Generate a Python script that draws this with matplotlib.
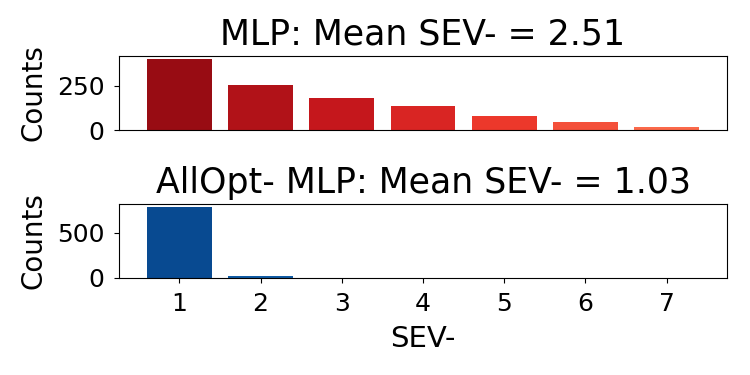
import numpy as np
import matplotlib
matplotlib.use('Agg')
import matplotlib.pyplot as plt

# SEV- values and counts
sev_levels = [1, 2, 3, 4, 5, 6, 7]
mlp_counts = [400, 258, 183, 135, 79, 44, 19]
allopt_counts = [785, 19, 0, 0, 0, 0, 0]
mlp_mean = 2.51
allopt_mean = 1.03

reds = plt.cm.Reds(np.linspace(0.9, 0.5, len(sev_levels)))
blues = plt.cm.Blues(np.linspace(0.9, 0.5, len(sev_levels)))

fig = plt.figure(figsize=(7.5, 3.75), dpi=100)
ax1 = fig.add_axes([0.159, 0.653, 0.81, 0.198])
ax2 = fig.add_axes([0.159, 0.259, 0.81, 0.198])

# Top panel: plain MLP
ax1.bar(sev_levels, mlp_counts, color=reds, width=0.8)
ax1.set_title(f'MLP: Mean SEV- = {mlp_mean:.2f}', fontsize=25, pad=8)
ax1.set_ylabel('Counts', fontsize=20, labelpad=7)
ax1.set_xticks([])
ax1.set_yticks([0, 250])
ax1.tick_params(labelsize=18, pad=7)

# Bottom panel: AllOpt- MLP
ax2.bar(sev_levels, allopt_counts, color=blues, width=0.8)
ax2.set_title(f'AllOpt- MLP: Mean SEV- = {allopt_mean:.2f}', fontsize=25, pad=8)
ax2.set_ylabel('Counts', fontsize=20, labelpad=7)
ax2.set_xlabel('SEV-', fontsize=21, labelpad=6)
ax2.set_xticks(sev_levels)
ax2.set_yticks([0, 500])
ax2.tick_params(labelsize=18, pad=7)

fig.savefig('out.png', dpi=100)
